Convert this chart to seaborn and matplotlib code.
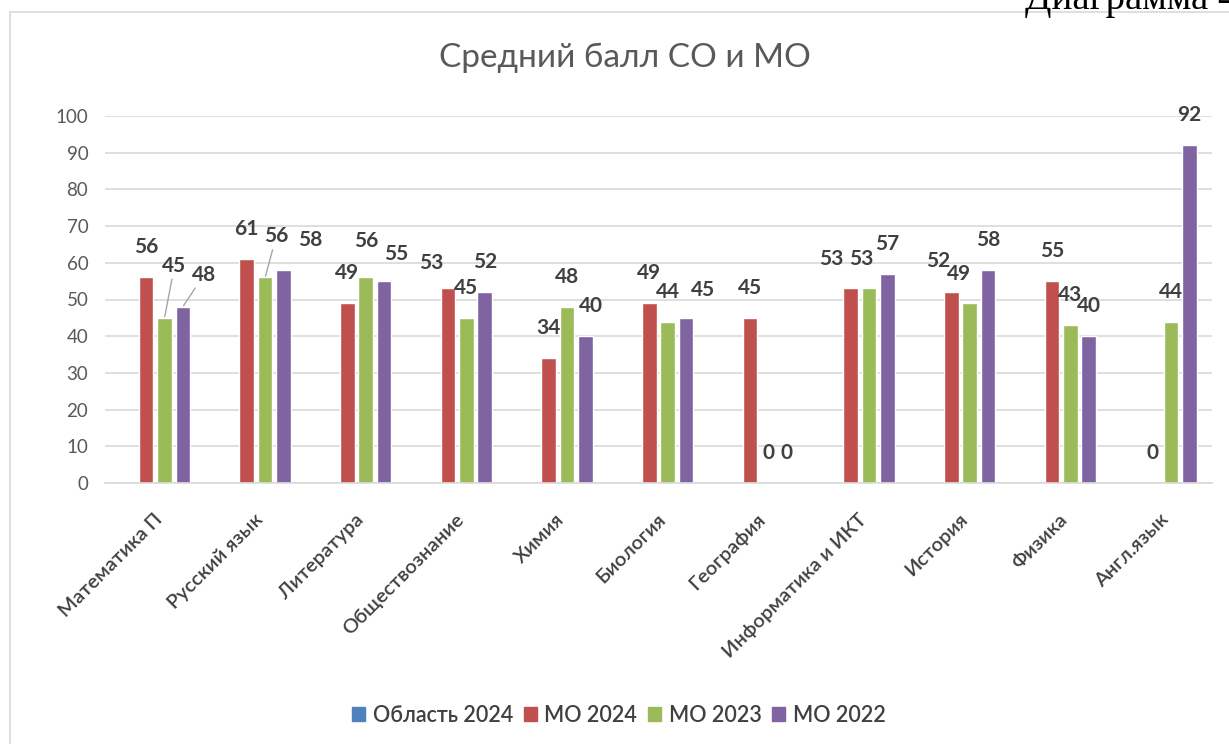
import numpy as np
import pandas as pd
import matplotlib
matplotlib.use('Agg')
import matplotlib.pyplot as plt
import seaborn as sns
from matplotlib.patches import Rectangle
from matplotlib.transforms import ScaledTranslation

# data
subjects = ['Математика П', 'Русский язык', 'Литература', 'Обществознание', 'Химия',
            'Биология', 'География', 'Информатика и ИКТ', 'История', 'Физика', 'Англ.язык']
oblast_2024 = [np.nan] * 11
mo_2024 = [56, 61, 49, 53, 34, 49, 45, 53, 52, 55, 0]
mo_2023 = [45, 56, 56, 45, 48, 44, 0, 53, 49, 43, 44]
mo_2022 = [48, 58, 55, 52, 40, 45, 0, 57, 58, 40, 92]
series = ['Область 2024', 'МО 2024', 'МО 2023', 'МО 2022']

colors = ['#4F81BD', '#C0504D', '#9BBB59', '#8064A2']

df = pd.DataFrame({
    'subject': subjects * 4,
    'series': [s for s in series for _ in subjects],
    'value': oblast_2024 + mo_2024 + mo_2023 + mo_2022,
})

# label nudges (pixels: dx, up) where Excel moved labels
nudge = {
    ('Математика П', 'МО 2023'): (10, 52),
    ('Математика П', 'МО 2022'): (21, 32),
    ('Русский язык', 'МО 2023'): (11, 41),
    ('Русский язык', 'МО 2022'): (27, 30),
    ('Литература', 'МО 2023'): (0, 36),
    ('Литература', 'МО 2022'): (12, 27),
    ('Обществознание', 'МО 2024'): (-17, 25),
    ('Химия', 'МО 2022'): (6, 30),
    ('Биология', 'МО 2022'): (17, 28),
    ('Информатика и ИКТ', 'МО 2024'): (-19, 29),
    ('Информатика и ИКТ', 'МО 2023'): (-8, 29),
    ('История', 'МО 2024'): (-13, 31),
    ('История', 'МО 2023'): (-11, 29),
}
leaders = [('Математика П', 'МО 2023'), ('Математика П', 'МО 2022'), ('Русский язык', 'МО 2023')]

sns.set_theme(style='white')
plt.rcParams['font.family'] = ['Lato', 'DejaVu Sans']

fig = plt.figure(figsize=(12.29, 7.44), dpi=100)
ax = fig.add_axes([105 / 1229, 1 - 483 / 744, (1212 - 105) / 1229, (483 - 116) / 744])

sns.barplot(data=df, x='subject', y='value', hue='series', hue_order=series,
            palette=colors, width=0.73, gap=0.2, ax=ax, legend=False,
            errorbar=None, saturation=1)

ax.set_ylim(0, 100)
ax.set_xlim(-0.5, len(subjects) - 0.5)
ax.set_yticks(range(0, 101, 10))
ax.yaxis.grid(True, color='#d9d9d9', lw=1.2)
ax.set_axisbelow(True)
for side in ['left', 'right', 'top']:
    ax.spines[side].set_visible(False)
ax.spines['bottom'].set_color('#d9d9d9')
ax.spines['bottom'].set_linewidth(1.2)
ax.set_xlabel('')
ax.set_ylabel('')
ax.tick_params(axis='y', length=0, pad=12, labelsize=13.5, labelcolor='#595959')
ax.tick_params(axis='x', length=0, pad=4, labelsize=14.5, labelcolor='#404040')
shift = ScaledTranslation(-2 / 100, -22 / 100, fig.dpi_scale_trans)
for lbl in ax.get_xticklabels():
    lbl.set_rotation(45)
    lbl.set_ha('right')
    lbl.set_rotation_mode('anchor')
    lbl.set_fontweight('semibold')
    lbl.set_transform(lbl.get_transform() + shift)

# data labels
for s, cont in zip(series, ax.containers):
    if s == 'Область 2024':
        continue
    for subj, bar in zip(subjects, cont):
        h = bar.get_height()
        if np.isnan(h):
            continue
        x = bar.get_x() + bar.get_width() / 2
        dx, up = nudge.get((subj, s), (0, 30))
        arrow = None
        if (subj, s) in leaders:
            arrow = dict(arrowstyle='-', color='#a6a6a6', lw=1, shrinkA=0, shrinkB=1)
        ax.annotate(f'{h:.0f}', xy=(x, h), xytext=(dx, up), textcoords='offset pixels',
                    ha='center', va='center', fontsize=15, fontweight='bold',
                    color='#404040', arrowprops=arrow, annotation_clip=False)

fig.suptitle('Средний балл СО и МО', x=625 / 1229, y=1 - 58 / 744, va='center',
             fontsize=24, color='#595959', fontweight='normal')

handles = [Rectangle((0, 0), 1, 1, color=c) for c in colors]
fig.legend(handles, series, loc='center', bbox_to_anchor=(619 / 1229, 1 - 715 / 744),
           ncol=4, frameon=False, handlelength=0.6, handleheight=0.6,
           handletextpad=0.35, columnspacing=0.5, labelcolor='#404040',
           prop={'weight': 'semibold', 'size': 15.5})

# chart frame and caption above it
fig.patches.append(Rectangle((10 / 1229, -0.01), 1.0, 1 - 12 / 744 + 0.01,
                             transform=fig.transFigure, fill=False,
                             edgecolor='#d9d9d9', lw=1.2))
fig.text(1025 / 1229, 1 - 9 / 744, 'Диаграмма 4', ha='left', va='baseline',
         fontsize=28, family='Liberation Serif', color='black')

fig.savefig('out.png', dpi=100)
